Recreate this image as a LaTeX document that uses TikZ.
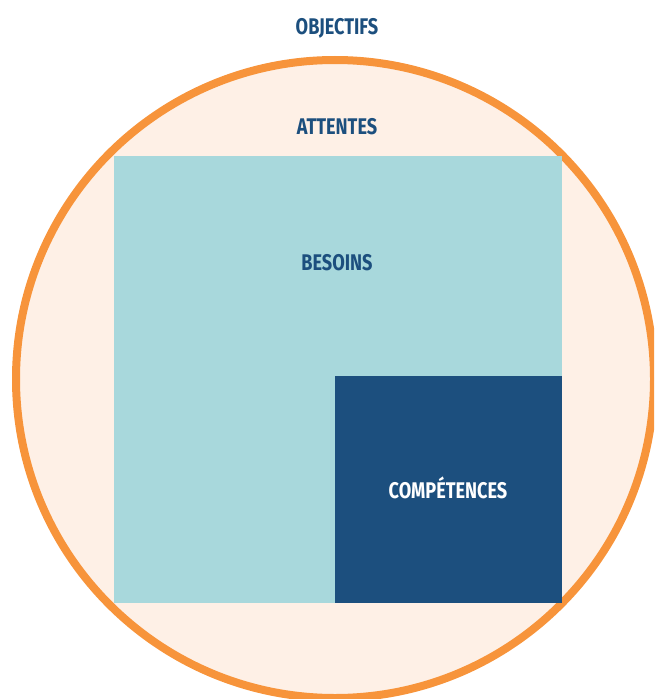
\documentclass[tikz,border=0pt]{standalone}
\usepackage{fontspec}
\newfontfamily\etiquette[FakeStretch=0.8]{Fira Sans}
\usetikzlibrary{positioning}
\definecolor{orangeCercle}{HTML}{F7943B}
\definecolor{fondCercle}{HTML}{FEF0E6}
\definecolor{bleuClair}{HTML}{A8D8DC}
\definecolor{bleuFonce}{HTML}{1C4F7E}
\tikzset{titre/.style={font=\etiquette\bfseries\fontsize{17}{19}\selectfont, text=bleuFonce, inner sep=0pt}}

\begin{document}
\begin{tikzpicture}[x=0.75pt,y=-0.75pt]

%cadre de la figure
\useasboundingbox (0,0) rectangle (654,699);
\clip (0,0) rectangle (654,699);

%%%%%%%%%%%%%%%%%%%%%%%%
%Paramètres du cercle
%%%%%%%%%%%%%%%%%%%%%%%%
\def \xcentre {335} %abscisse du centre
\def \ycentre {379} %ordonnée du centre
\def \rayon {319} %rayon du cercle

%cercle des attentes
\draw[orangeCercle, line width=6pt, fill=fondCercle] (\xcentre,\ycentre) circle[radius=\rayon];

%carré des besoins
\fill[bleuClair] (114,156) rectangle (562,603);

%carré des compétences
\fill[bleuFonce] (335,376) rectangle (562,603);

%textes
\node[titre] (objectifs) at (337,28) {OBJECTIFS};
\node[titre] (attentes) at (337,127) {ATTENTES};
\node[titre] (besoins) at (337,263) {BESOINS};
\node[titre, text=white] (competences) at (448,488) {COMPÉTENCES};

\end{tikzpicture}
\end{document}
